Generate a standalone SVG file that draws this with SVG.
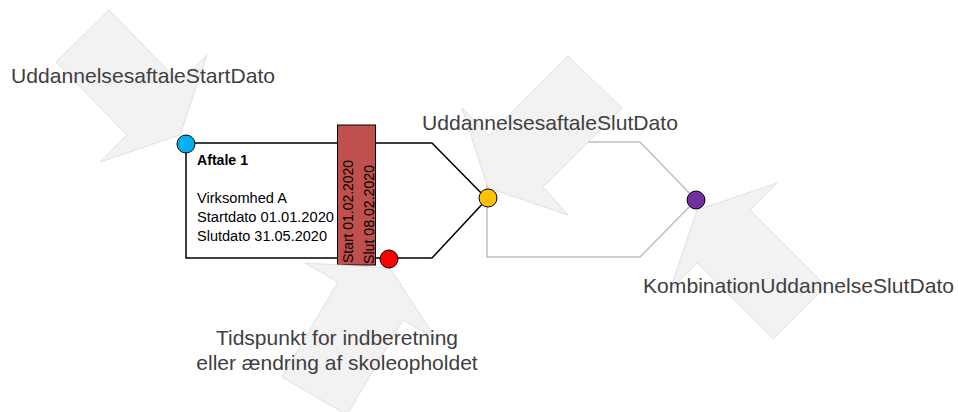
<svg xmlns="http://www.w3.org/2000/svg" width="958" height="412" viewBox="0 0 958 412">
<style>
.arrow{fill:#f2f2f2;stroke:#d9d9d9;stroke-width:0.8}
.blk{fill:none;stroke:#000;stroke-width:1.5;stroke-linejoin:miter}
.gry{fill:none;stroke:#bfbfbf;stroke-width:1.5}
.lbl{font-family:"Liberation Sans",Arial,sans-serif;font-size:21px;fill:#404040}
.box{font-family:"Liberation Sans",Arial,sans-serif;font-size:14px;fill:#000}
.dot{stroke:#000;stroke-width:1}
</style>
<rect width="958" height="412" fill="#fff"/>
<g id="connectors">
  <path class="gry" d="M487,199 L487,142 L640,142 L696,200 L640,257 L487,257 L487,199"/>
</g>
<g id="aftale1">
  <path class="blk" d="M186,143 L432,143 L487,199 L432,258 L186,258 Z"/>
  <text class="box" x="197" y="165" font-weight="bold" textLength="51" lengthAdjust="spacingAndGlyphs">Aftale 1</text>
  <text class="box" x="197" y="203" textLength="90" lengthAdjust="spacingAndGlyphs">Virksomhed A</text>
  <text class="box" x="197" y="222" textLength="137" lengthAdjust="spacingAndGlyphs">Startdato 01.01.2020</text>
  <text class="box" x="197" y="241" textLength="130" lengthAdjust="spacingAndGlyphs">Slutdato 31.05.2020</text>
</g>
<g id="periode">
  <rect x="337.5" y="125" width="38" height="140" fill="#c0504d" stroke="#000" stroke-width="1"/>
  <text class="box" transform="translate(353,263) rotate(-90)" x="0" y="0" textLength="103" lengthAdjust="spacingAndGlyphs">Start 01.02.2020</text>
  <text class="box" transform="translate(374,264) rotate(-90)" x="0" y="0" textLength="99" lengthAdjust="spacingAndGlyphs">Slut 08.02.2020</text>
</g>
<g id="arrow-start">
  <polygon class="arrow" points="109,10 56,62 127,135 100,162 180,135 207,55 180,83"/>
</g>
<g id="arrow-slut">
  <polygon class="arrow" points="568,56 489,135 462,108 488,188 568,215 543,187 622,108"/>
</g>
<g id="arrow-kombination">
  <polygon class="arrow" points="826,286 750,210 777,183 697,210 670,290 697,263 773,339"/>
</g>
<g id="arrow-tidspunkt">
  <polygon class="arrow" points="282,377 338,282 305,263 390,268 436,339 403,320 347,415"/>
</g>
<g id="node-start"><circle class="dot" cx="186" cy="144" r="9" fill="#00b0f0"/></g>
<g id="node-slut"><circle class="dot" cx="488" cy="198" r="9" fill="#ffc000"/></g>
<g id="node-tidspunkt"><circle class="dot" cx="389" cy="259" r="9" fill="#ff0000"/></g>
<g id="node-kombination"><circle class="dot" cx="696" cy="200" r="9" fill="#7030a0"/></g>
<g id="labels">
  <text class="lbl" x="11" y="83" textLength="264" lengthAdjust="spacingAndGlyphs">UddannelsesaftaleStartDato</text>
  <text class="lbl" x="422" y="130" textLength="256" lengthAdjust="spacingAndGlyphs">UddannelsesaftaleSlutDato</text>
  <text class="lbl" x="643" y="293" textLength="311" lengthAdjust="spacingAndGlyphs">KombinationUddannelseSlutDato</text>
  <text class="lbl" x="337" y="345" text-anchor="middle">Tidspunkt for indberetning</text>
  <text class="lbl" x="337" y="370" text-anchor="middle">eller ændring af skoleopholdet</text>
</g>
</svg>
